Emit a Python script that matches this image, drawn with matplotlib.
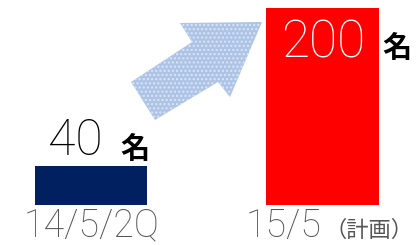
import matplotlib
matplotlib.use("Agg")
import matplotlib.pyplot as plt
from matplotlib.patches import Polygon
from matplotlib.transforms import blended_transform_factory

categories = ["14/5/2Q", "15/5"]
category_suffix = ["", "（計画）"]
values = [40, 200]
value_labels = ["40", "200"]
unit = "名"
colors = ["#002060", "#ff0000"]
label_colors = ["black", "white"]

W, H = 419, 245
fig = plt.figure(figsize=(W / 100, H / 100), dpi=100)
base_px = 205
ax = fig.add_axes([0, (H - base_px) / H, 1, base_px / H])
ax.set_axis_off()
ax.set_ylim(0, 200 * base_px / 197)
ax.set_xlim(-91 / 231.5, (W - 91) / 231.5)

xs = list(range(len(categories)))
ax.bar(xs, values, width=0.484, color=colors, linewidth=0)

jp = ["Noto Sans CJK JP", "DejaVu Sans"]
num = ["Roboto", "DejaVu Sans"]

# value labels
ax.text(xs[0] - 0.067, values[0] + 11, value_labels[0], ha="center", va="baseline",
        fontsize=36, color=label_colors[0], family=num, fontweight="light")
ax.text(xs[0] + 0.188, values[0] + 8, unit, ha="center", va="baseline",
        fontsize=21, color="black", family=jp, fontweight="bold")
ax.text(xs[1] + 0.005, values[1] - 50, value_labels[1], ha="center", va="baseline",
        fontsize=37, color=label_colors[1], family=num, fontweight="light")
ax.text(xs[1] + 0.322, values[1] - 41, unit, ha="center", va="center",
        fontsize=21, color="black", family=jp, fontweight="bold")

# category labels
tr = blended_transform_factory(ax.transData, fig.transFigure)
ax.text(xs[0] + 0.0, 0.5 / H, categories[0], ha="center", va="bottom",
        fontsize=27, color="#555555", family=num, fontweight="light", transform=tr)
ax.text(xs[1] - 0.005, 0.5 / H, categories[1], ha="right", va="bottom",
        fontsize=27, color="#555555", family=num, fontweight="light", transform=tr)
ax.text(xs[1] + 0.01, 8 / H, category_suffix[1], ha="left", va="baseline",
        fontsize=16, color="#555555", family=jp, transform=tr)

# decorative arrow (pixel outline converted to figure fraction)
arrow_px = [(131, 82), (192, 42), (180, 23), (262, 22), (230, 97), (218, 82), (155, 120)]
arrow = Polygon([(x / W, 1 - y / H) for x, y in arrow_px], closed=True,
                transform=fig.transFigure, facecolor="#aec4e6",
                edgecolor="#dce6f4", linewidth=0, hatch="....")
fig.patches.append(arrow)

fig.savefig("out.png", dpi=100)
